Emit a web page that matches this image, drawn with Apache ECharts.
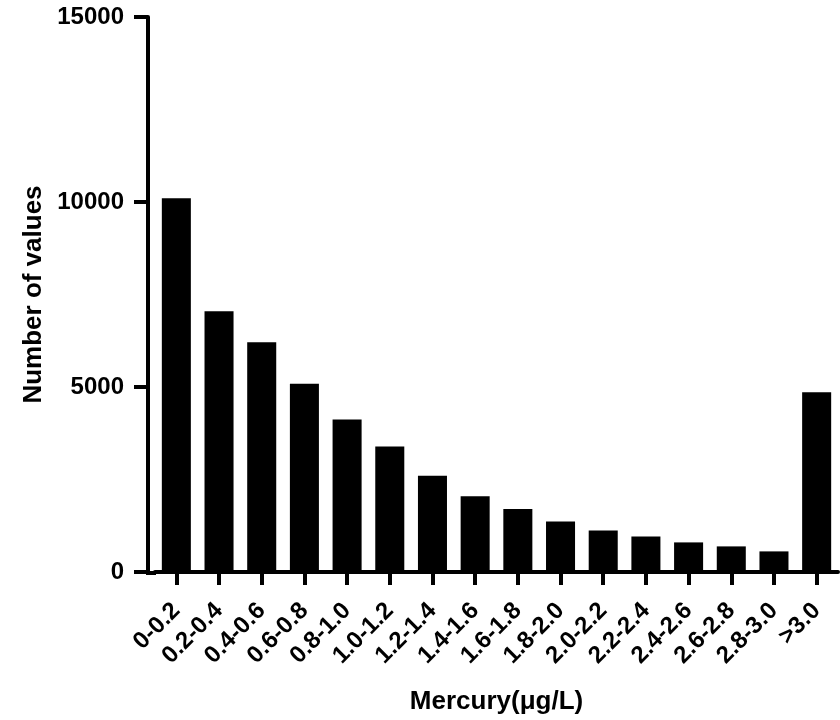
<!DOCTYPE html>
<html>
<head>
<meta charset="utf-8">
<script src="https://cdn.jsdelivr.net/npm/echarts@6/dist/echarts.min.js"></script>
<style>
  html, body { margin: 0; padding: 0; background: #fff; }
  #bar { width: 840px; height: 720px; }
</style>
</head>
<body>
<div id="bar"></div>
<script>
// 分类和数值
var ranges = ['0-0.2', '0.2-0.4', '0.4-0.6', '0.6-0.8', '0.8-1.0', '1.0-1.2', '1.2-1.4', '1.4-1.6',
  '1.6-1.8', '1.8-2.0', '2.0-2.2', '2.2-2.4', '2.4-2.6', '2.6-2.8', '2.8-3.0', '>3.0'];
var counts = [10100, 7045, 6210, 5090, 4120, 3390, 2598, 2050, 1700, 1367, 1124, 962, 800, 692, 557, 4855];
var yTicks = [0, 5000, 10000, 15000];

var font = 'Liberation Sans, Arial, sans-serif';
var gridLeft = 155, gridBottom = 147;

function workNum () {
  // 1. 实例化对象
  const myChart = echarts.init(document.getElementById('bar'));
  // 2.指定配置
  const option = {
    animation: false,
    grid: {
      left: gridLeft,
      right: 2,
      top: 17,
      bottom: gridBottom
    },
    xAxis: {
      type: 'category',
      data: ranges,
      name: 'Mercury(μg/L)',
      nameLocation: 'middle',
      nameGap: 117,
      nameTextStyle: { color: '#000', fontSize: 26, fontWeight: 'bold', fontFamily: font },
      axisLine: { show: true, lineStyle: { color: '#000', width: 4 } },
      axisTick: { show: true, alignWithLabel: true, interval: 0, length: 13, lineStyle: { color: '#000', width: 4 } },
      axisLabel: {
        rotate: 45,
        interval: 0,
        margin: 35,
        color: '#000',
        fontSize: 24,
        fontWeight: 'bold',
        fontFamily: font
      },
      splitLine: { show: false }
    },
    yAxis: {
      type: 'value',
      min: 0,
      max: 15000,
      interval: 5000,
      offset: gridLeft - 148,
      name: 'Number of values',
      nameLocation: 'middle',
      nameGap: 100,
      nameTextStyle: { color: '#000', fontSize: 26, fontWeight: 'bold', fontFamily: font },
      axisLine: { show: true, lineStyle: { color: '#000', width: 4 } },
      axisTick: { show: true, length: 14, lineStyle: { color: '#000', width: 4 } },
      axisLabel: {
        margin: 24,
        color: '#000',
        fontSize: 24,
        fontWeight: 'bold',
        fontFamily: font,
        formatter: function (v) { return yTicks.indexOf(v) >= 0 ? String(v) : ''; }
      },
      splitLine: { show: false }
    },
    // 补上y轴和x轴之间的转角
    graphic: [{
      type: 'rect',
      left: 146,
      bottom: gridBottom - 2,
      shape: { width: gridLeft - 146 + 1, height: 4 },
      style: { fill: '#000' }
    }],
    series: [{
      type: 'bar',
      data: counts,
      barCategoryGap: '32%',
      itemStyle: { color: '#000' }
    }]
  };
  // 3. 把配置给实例对象
  myChart.setOption(option);
}
workNum();
</script>
</body>
</html>
